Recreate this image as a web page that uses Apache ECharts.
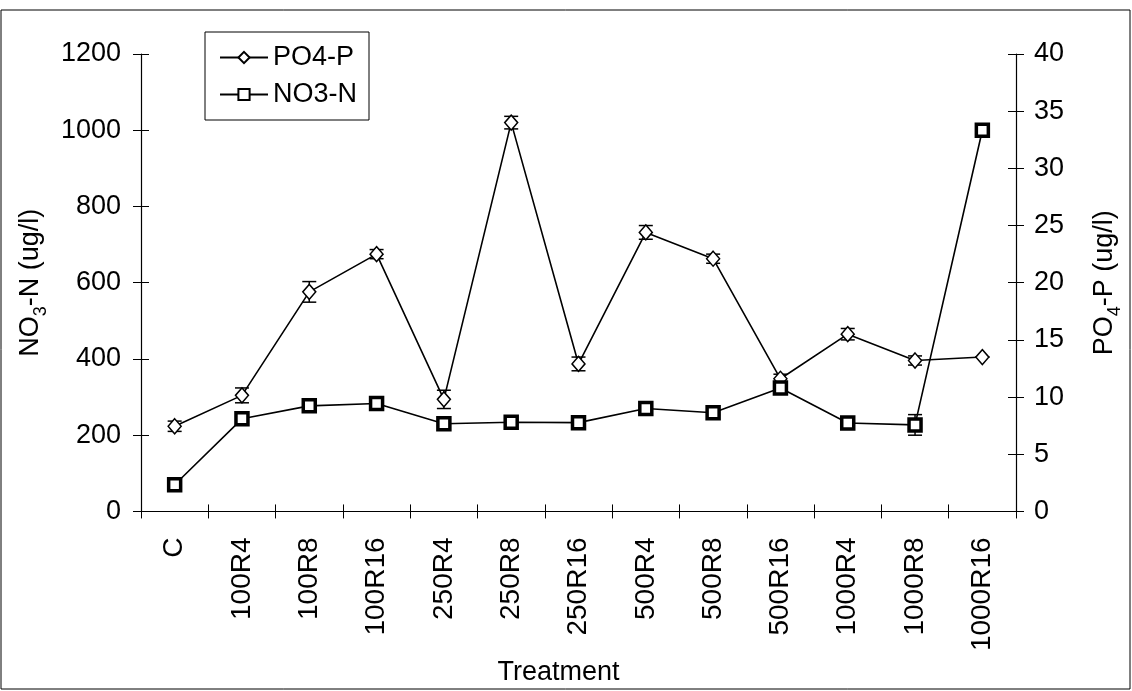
<!DOCTYPE html>
<html>
<head>
<meta charset="utf-8">
<script src="https://cdn.jsdelivr.net/npm/echarts@6/dist/echarts.min.js"></script>
<style>
html,body{margin:0;padding:0;background:#fff;}
#main{width:1132px;height:691px;}
</style>
</head>
<body>
<div id="main"></div>
<script>
var categories = ['C','100R4','100R8','100R16','250R4','250R8','250R16','500R4','500R8','500R16','1000R4','1000R8','1000R16'];
var no3Values = [70, 243, 277, 283, 230, 234, 233, 270, 259, 324, 232, 227, 1000];
var no3Err    = [8, 6, 6, 6, 5, 5, 5, 6, 6, 8, 6, 27, 0];
var po4Values = [7.45, 10.15, 19.2, 22.5, 9.8, 34.0, 12.9, 24.4, 22.1, 11.6, 15.5, 13.2, 13.5];
var po4Err    = [0.45, 0.65, 0.9, 0.4, 0.8, 0.55, 0.6, 0.6, 0.4, 0.4, 0.5, 0.4, 0];
var leftTicks = {min: 0, max: 1200, interval: 200};
var rightTicks = {min: 0, max: 40, interval: 5};

var FONT = '"Liberation Sans", Arial, sans-serif';
var chart = echarts.init(document.getElementById('main'));

function errData(vals, errs) {
  return vals.map(function (v, i) { return [i, v - errs[i], v + errs[i]]; });
}
function errRender(params, api) {
  var x = api.value(0);
  var lo = api.coord([x, api.value(1)]);
  var hi = api.coord([x, api.value(2)]);
  var hw = 7;
  var st = {stroke: '#000', lineWidth: 1.5};
  return {
    type: 'group',
    children: [
      {type: 'line', shape: {x1: lo[0], y1: lo[1], x2: hi[0], y2: hi[1]}, style: st},
      {type: 'line', shape: {x1: lo[0] - hw, y1: lo[1], x2: lo[0] + hw, y2: lo[1]}, style: st},
      {type: 'line', shape: {x1: hi[0] - hw, y1: hi[1], x2: hi[0] + hw, y2: hi[1]}, style: st}
    ]
  };
}

var axisLine = {show: true, lineStyle: {color: '#000', width: 1.2}};
var labelStyle = {color: '#000', fontSize: 27, fontFamily: FONT, formatter: function (v) { return String(v); }};

var option = {
  backgroundColor: '#fff',
  animation: false,
  textStyle: {fontFamily: FONT},
  grid: {left: 141, right: 104, top: 54, bottom: 171, containLabel: false},
  legend: {
    orient: 'vertical',
    left: 205, top: 32,
    padding: [12, 12, 12, 14],
    borderColor: '#000', borderWidth: 1,
    itemWidth: 48, itemHeight: 14, itemGap: 10,
    textStyle: {color: '#000', fontSize: 27, fontFamily: FONT},
    data: ['PO4-P', 'NO3-N']
  },
  graphic: [{
    type: 'rect', silent: true,
    shape: {x: 1, y: 10, width: 1129, height: 679},
    style: {fill: 'none', stroke: '#000', lineWidth: 1}
  }],
  xAxis: [{
    type: 'category', data: categories, boundaryGap: true,
    axisLine: axisLine,
    axisTick: {show: true, length: 7, lineStyle: {color: '#000'}},
    axisLabel: {rotate: 90, margin: 26, color: '#000', fontSize: 28, fontFamily: FONT, interval: 0},
    name: 'Treatment', nameLocation: 'middle', nameGap: 138,
    nameTextStyle: {color: '#000', fontSize: 27, fontFamily: FONT, padding: [0, 40, 0, 0]}
  }, {
    type: 'category', data: categories, boundaryGap: true, position: 'bottom',
    axisLine: {show: false},
    axisTick: {show: true, inside: true, length: 7, lineStyle: {color: '#000'}},
    axisLabel: {show: false}
  }],
  yAxis: [{
    type: 'value', position: 'left', min: leftTicks.min, max: leftTicks.max, interval: leftTicks.interval,
    axisLine: axisLine,
    axisTick: {show: true, length: 8, lineStyle: {color: '#000'}},
    axisLabel: Object.assign({margin: 20}, labelStyle),
    splitLine: {show: false},
    name: '{n|NO}{s|3}{n|-N (ug/l)}', nameLocation: 'middle', nameGap: 70, nameRotate: 90,
    nameTextStyle: {rich: {
      n: {color: '#000', fontSize: 27, fontFamily: FONT},
      s: {color: '#000', fontSize: 18, fontFamily: FONT, verticalAlign: 'bottom', padding: [0, 0, -6, 0]}
    }}
  }, {
    type: 'value', position: 'right', min: rightTicks.min, max: rightTicks.max, interval: rightTicks.interval,
    axisLine: axisLine,
    axisTick: {show: true, length: 8, lineStyle: {color: '#000'}},
    axisLabel: Object.assign({margin: 18}, labelStyle),
    splitLine: {show: false},
    name: '{n|PO}{s|4}{n|-P (ug/l)}', nameLocation: 'middle', nameGap: 75, nameRotate: 90,
    nameTextStyle: {rich: {
      n: {color: '#000', fontSize: 27, fontFamily: FONT},
      s: {color: '#000', fontSize: 18, fontFamily: FONT, verticalAlign: 'bottom', padding: [0, 0, -6, 0]}
    }}
  }, {
    type: 'value', position: 'left', min: leftTicks.min, max: leftTicks.max, interval: leftTicks.interval,
    axisLine: {show: false},
    axisTick: {show: true, inside: true, length: 8, lineStyle: {color: '#000'}},
    axisLabel: {show: false}, splitLine: {show: false}
  }, {
    type: 'value', position: 'right', min: rightTicks.min, max: rightTicks.max, interval: rightTicks.interval,
    axisLine: {show: false},
    axisTick: {show: true, inside: true, length: 8, lineStyle: {color: '#000'}},
    axisLabel: {show: false}, splitLine: {show: false}
  }],
  series: [{
    name: 'PO4-P', type: 'line', yAxisIndex: 1, data: po4Values,
    symbol: 'diamond', symbolSize: [13, 15], showAllSymbol: true,
    lineStyle: {color: '#000', width: 1.6},
    itemStyle: {color: '#fff', borderColor: '#000', borderWidth: 1.5},
    z: 3
  }, {
    name: 'PO4-P err', type: 'custom', yAxisIndex: 1, data: errData(po4Values, po4Err),
    renderItem: errRender, z: 2, silent: true
  }, {
    name: 'NO3-N', type: 'line', yAxisIndex: 0, data: no3Values,
    symbol: 'rect', symbolSize: 12, showAllSymbol: true,
    lineStyle: {color: '#000', width: 1.6},
    itemStyle: {color: '#fff', borderColor: '#000', borderWidth: 3.5},
    z: 4
  }, {
    name: 'NO3-N err', type: 'custom', yAxisIndex: 0, data: errData(no3Values, no3Err),
    renderItem: errRender, z: 2, silent: true
  }]
};
chart.setOption(option);
</script>
</body>
</html>
